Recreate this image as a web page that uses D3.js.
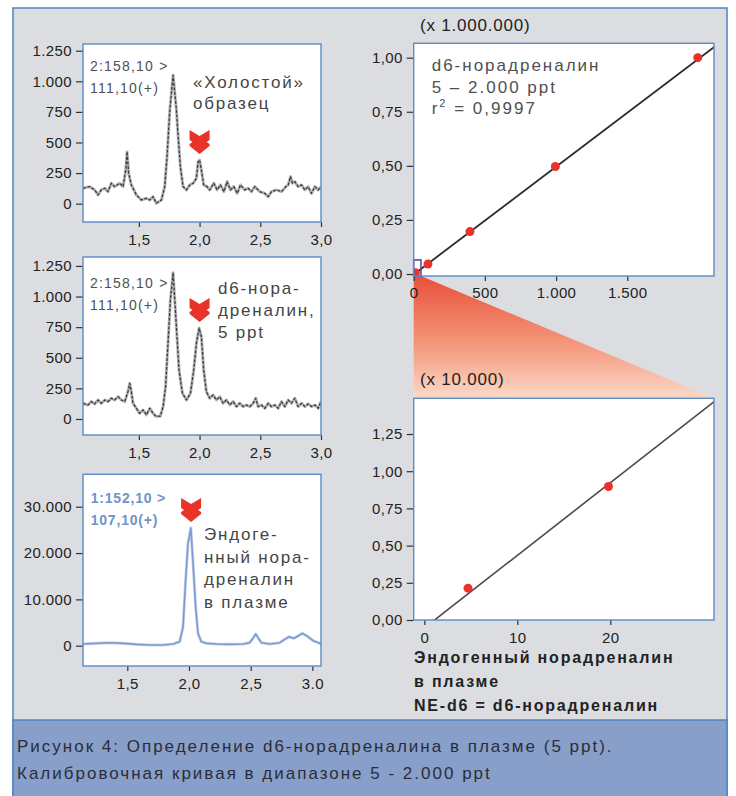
<!DOCTYPE html>
<html>
<head>
<meta charset="utf-8">
<script src="https://cdn.jsdelivr.net/npm/d3@7/dist/d3.min.js"></script>
<style>
  body { margin: 0; background: #fff; }
  svg text { font-family: "Liberation Sans", Arial, sans-serif; }
  .tick text { font-size: 15px; fill: #222; letter-spacing: 0.4px; }
  .tick line { stroke: #333; stroke-width: 1.2; }
</style>
</head>
<body>
<svg id="chart" width="736" height="796"></svg>
<script>
// ---- data ----
const blankTrace = [
  [1.04,126],[1.095,139],[1.136,112],[1.164,71],[1.19,112],[1.22,126],[1.246,98],[1.273,167],
  [1.30,139],[1.342,167],[1.37,139],[1.392,275],[1.403,425],[1.416,248],[1.438,153],[1.48,71],
  [1.52,30],[1.562,44],[1.59,30],[1.617,57],[1.644,3],[1.686,30],[1.713,139],[1.732,384],
  [1.755,765],[1.782,1050],[1.808,780],[1.823,560],[1.842,302],[1.864,139],[1.892,112],[1.92,153],
  [1.947,167],[1.974,208],[1.988,343],[2.0,357],[2.015,275],[2.034,153],[2.062,139],[2.084,112],
  [2.117,167],[2.144,112],[2.172,153],[2.2,98],[2.227,180],[2.254,112],[2.282,139],[2.31,84],
  [2.337,153],[2.372,112],[2.4,126],[2.427,98],[2.455,139],[2.496,98],[2.537,84],[2.565,57],
  [2.592,98],[2.633,112],[2.675,98],[2.71,139],[2.73,153],[2.749,221],[2.765,167],[2.784,180],
  [2.812,139],[2.84,153],[2.867,112],[2.894,139],[2.922,84],[2.95,139],[2.977,112],[3.0,139]
];
const spikedTrace = [
  [1.04,128],[1.081,114],[1.109,142],[1.136,123],[1.164,155],[1.19,128],[1.22,155],[1.246,142],
  [1.273,169],[1.30,155],[1.33,182],[1.356,155],[1.384,142],[1.41,223],[1.425,291],[1.438,223],
  [1.452,128],[1.48,87],[1.507,46],[1.535,73],[1.562,33],[1.59,87],[1.617,46],[1.644,19],
  [1.677,24],[1.70,101],[1.72,264],[1.74,618],[1.76,972],[1.782,1195],[1.809,754],[1.831,400],
  [1.859,210],[1.892,155],[1.925,210],[1.952,400],[1.974,618],[1.996,741],[2.015,673],[2.034,400],
  [2.056,223],[2.084,169],[2.111,196],[2.139,155],[2.166,182],[2.194,128],[2.221,155],[2.249,114],
  [2.276,142],[2.304,101],[2.331,128],[2.359,101],[2.386,114],[2.414,101],[2.441,128],[2.463,169],
  [2.482,101],[2.51,114],[2.537,87],[2.565,128],[2.592,101],[2.62,114],[2.647,87],[2.675,142],
  [2.702,101],[2.73,155],[2.757,128],[2.784,169],[2.812,101],[2.84,128],[2.867,101],[2.894,123],
  [2.922,101],[2.95,114],[2.977,87],[3.0,142]
];
const plasmaTrace = [
  [1.141,367],[1.249,511],[1.357,655],[1.465,511],[1.573,295],[1.682,151],[1.79,151],[1.871,367],
  [1.925,870],[1.952,4100],[1.973,14180],[1.992,22100],[2.015,25400],[2.033,17780],[2.054,8420],
  [2.073,2670],[2.1,870],[2.141,511],[2.222,367],[2.33,295],[2.438,367],[2.492,655],[2.519,1590],
  [2.541,2520],[2.563,1590],[2.587,655],[2.655,367],[2.736,655],[2.776,1370],[2.811,1940],
  [2.849,1590],[2.884,2090],[2.919,2670],[2.957,2090],[3.006,1080],[3.06,511],[3.087,367]
];
const calPoints = [[12,0.006],[100,0.046],[395,0.196],[995,0.497],[1995,1.0]];
const calFit = [[0,-0.002],[2115,1.052]];
const lowPoints = [[4.7,0.214],[19.8,0.897]];
const lowFit = [[0.9,-0.01],[31.5,1.484]];
const zoomBox = [[0,-0.009],[51,0.065]];

const chromYTicks = [0,250,500,750,1000,1250];
const chromYLabels = ["0","250","500","750","1.000","1.250"];
const chromXTicks = [1.5,2.0,2.5,3.0];
const chromXLabels = ["1,5","2,0","2,5","3,0"];
const plasmaXLabels = ["1,5","2,0","2,5","3.0"];
const plasmaYTicks = [0,10000,20000,30000];
const plasmaYLabels = ["0","10.000","20.000","30.000"];
const calXTicks = [0,500,1000,1500];
const calXLabels = ["0","500","1.000","1.500"];
const calYTicks = [0,0.25,0.5,0.75,1.0];
const calYLabels = ["0,00","0,25","0,50","0,75","1,00"];
const lowXTicks = [0,10,20];
const lowYTicks = [0,0.25,0.5,0.75,1.0,1.25];
const lowYLabels = ["0,00","0,25","0,50","0,75","1,00","1,25"];

const svg = d3.select("#chart");
const red = "#e8322a";

// frame + caption band
svg.append("rect").attr("x", 13).attr("y", 8).attr("width", 714).attr("height", 800)
  .attr("fill", "#dcdde0").attr("stroke", "#4d84c4").attr("stroke-width", 1.5);
svg.append("rect").attr("x", 13).attr("y", 720).attr("width", 714).attr("height", 80)
  .attr("fill", "#889fca").attr("stroke", "#4d84c4").attr("stroke-width", 1.5);

const defs = svg.append("defs");
const grad = defs.append("linearGradient").attr("id", "fan")
  .attr("x1", 0).attr("y1", 0).attr("x2", 0).attr("y2", 1);
grad.append("stop").attr("offset", "0%").attr("stop-color", "#e8513a");
grad.append("stop").attr("offset", "55%").attr("stop-color", "#f4967a");
grad.append("stop").attr("offset", "100%").attr("stop-color", "#fcd9c8");
defs.append("filter").attr("id", "soft").append("feGaussianBlur").attr("stdDeviation", 0.6);

let clipId = 0;
function panel(opt) {
  const x = d3.scaleLinear().domain(opt.xd).range([opt.left, opt.right]);
  const y = d3.scaleLinear().domain(opt.yd).range([opt.bottom, opt.top]);
  const g = svg.append("g");
  const id = "clip" + (clipId++);
  defs.append("clipPath").attr("id", id).append("rect")
    .attr("x", opt.left).attr("y", opt.top)
    .attr("width", opt.right - opt.left).attr("height", opt.bottom - opt.top);

  g.append("rect").attr("x", opt.left).attr("y", opt.top)
    .attr("width", opt.right - opt.left).attr("height", opt.bottom - opt.top)
    .attr("fill", "#fff");

  g.append("g").attr("transform", "translate(" + opt.left + ",0)")
    .call(d3.axisLeft(y).tickValues(opt.yt).tickFormat((d, i) => opt.yl[i]).tickSize(7).tickPadding(4));
  g.append("g").attr("transform", "translate(0," + opt.bottom + ")")
    .call(d3.axisBottom(x).tickValues(opt.xt).tickFormat((d, i) => opt.xl[i]).tickSize(5).tickPadding(opt.xpad));
  g.selectAll(".domain").remove();

  const body = g.append("g").attr("clip-path", "url(#" + id + ")");
  return { x, y, g, body, opt };
}

function frame(p) {
  const o = p.opt;
  p.g.append("rect").attr("x", o.left).attr("y", o.top)
    .attr("width", o.right - o.left).attr("height", o.bottom - o.top)
    .attr("fill", "none").attr("stroke", "#5a8cc6").attr("stroke-width", 1.4);
}

function trace(p, data, color, halo, dashed) {
  const line = d3.line().x(d => p.x(d[0])).y(d => p.y(d[1]));
  p.body.append("path").attr("d", line(data)).attr("fill", "none")
    .attr("stroke", halo).attr("stroke-width", 3).attr("stroke-linejoin", "round");
  p.body.append("path").attr("d", line(data)).attr("fill", "none")
    .attr("stroke", color).attr("stroke-width", dashed ? 1.3 : 1.6)
    .attr("stroke-dasharray", dashed ? "3,1.5" : null).attr("stroke-linejoin", "round");
}

function chevron(p, cx, cy) {
  p.g.append("path")
    .attr("transform", "translate(" + p.x(cx) + "," + p.y(cy) + ")")
    .attr("d", "M-10,-12 L0,-6 L10,-12 L10,-2 L7,0 L10,2 L10,4 L0,12 L-10,4 L-10,2 L-7,0 L-10,-2 Z")
    .attr("fill", red).attr("filter", "url(#soft)");
}

// one <text> per line
function label(p, lines, dx, dy, lh, size, color, spacing, weight) {
  lines.forEach((s, i) => {
    p.g.append("text").attr("x", p.opt.left + dx).attr("y", p.opt.top + dy + i * lh)
      .attr("font-size", size).attr("fill", color).attr("letter-spacing", spacing)
      .attr("font-weight", weight || "normal").text(s);
  });
}

// ---- left chromatograms ----
const c1 = panel({ left: 83, right: 321, top: 44, bottom: 222, xd: [1.04, 3.0], yd: [-150, 1305],
  xt: chromXTicks, xl: chromXLabels, yt: chromYTicks, yl: chromYLabels, xpad: 7 });
trace(c1, blankTrace, "#3c3c3c", "#b8b8b8", true);
frame(c1);
chevron(c1, 2.0, 504);
label(c1, ["2:158,10 >", "111,10(+)"], 7, 27, 22, 14, "#505050", 1.2);
label(c1, ["«Холостой»", "образец"], 110, 43.5, 21, 17, "#454545", 1.8);

const c2 = panel({ left: 83, right: 321, top: 257, bottom: 435, xd: [1.04, 3.0], yd: [-131, 1323],
  xt: chromXTicks, xl: chromXLabels, yt: chromYTicks, yl: chromYLabels, xpad: 7 });
trace(c2, spikedTrace, "#3c3c3c", "#b8b8b8", true);
frame(c2);
chevron(c2, 2.0, 890);
label(c2, ["2:158,10 >", "111,10(+)"], 7, 30.7, 22.3, 14, "#505050", 1.2);
label(c2, ["d6-нора-", "дреналин,", "5 ppt"], 135, 37, 22, 17, "#454545", 1.8);

const c3 = panel({ left: 83, right: 321, top: 474.3, bottom: 666, xd: [1.141, 3.07], yd: [-4380, 37000],
  xt: chromXTicks, xl: plasmaXLabels, yt: plasmaYTicks, yl: plasmaYLabels, xpad: 7 });
trace(c3, plasmaTrace, "#7b9bd2", "#c9d6ee", false);
frame(c3);
chevron(c3, 2.017, 29290);
label(c3, ["1:152,10 >", "107,10(+)"], 7.7, 28.7, 22, 14, "#6f93cc", 0.8, "bold");
label(c3, ["Эндоге-", "нный нора-", "дреналин", "в плазме"], 121, 65.7, 22.5, 17, "#454545", 1.8);

// ---- calibration curves ----
const cal = panel({ left: 413.7, right: 714, top: 43.3, bottom: 276, xd: [0, 2109], yd: [-0.0092, 1.0665],
  xt: calXTicks, xl: calXLabels, yt: calYTicks, yl: calYLabels, xpad: 6 });
const low = panel({ left: 413.7, right: 714, top: 398.3, bottom: 620, xd: [-1.14, 31.15], yd: [0, 1.49],
  xt: lowXTicks, xl: lowXTicks.map(String), yt: lowYTicks, yl: lowYLabels, xpad: 7 });

// fan from the zoom square down to the lower plot
svg.insert("path", "g")
  .attr("d", d3.line()([
    [cal.x(zoomBox[0][0]), cal.opt.bottom], [cal.x(zoomBox[1][0]), cal.opt.bottom],
    [low.opt.right, low.opt.top], [low.opt.left, low.opt.top]
  ]) + "Z")
  .attr("fill", "url(#fan)");

const fitLine = p => d3.line().x(d => p.x(d[0])).y(d => p.y(d[1]));
cal.body.append("path").attr("d", fitLine(cal)(calFit)).attr("stroke", "#2a2a2a")
  .attr("stroke-width", 1.8).attr("fill", "none");
cal.body.selectAll("circle").data(calPoints).join("circle")
  .attr("cx", d => cal.x(d[0])).attr("cy", d => cal.y(d[1])).attr("r", 4.5).attr("fill", red)
  .attr("filter", "url(#soft)");
cal.g.append("rect")
  .attr("x", cal.x(zoomBox[0][0])).attr("y", cal.y(zoomBox[1][1]))
  .attr("width", cal.x(zoomBox[1][0]) - cal.x(zoomBox[0][0]))
  .attr("height", cal.y(zoomBox[0][1]) - cal.y(zoomBox[1][1]))
  .attr("fill", "none").attr("stroke", "#5b4ea3").attr("stroke-width", 1.6);
frame(cal);
label(cal, ["(x 1.000.000)"], 6.3, -12.3, 0, 17, "#222", 0.8);
label(cal, ["d6-норадреналин", "5 – 2.000 ppt"], 18, 27.7, 22, 17, "#505050", 2);
const r2t = cal.g.append("text").attr("x", cal.opt.left + 18).attr("y", cal.opt.top + 70.7)
  .attr("font-size", 17).attr("fill", "#505050").attr("letter-spacing", 2);
r2t.append("tspan").text("r");
r2t.append("tspan").attr("font-size", 11).attr("dy", -7).text("2");
r2t.append("tspan").attr("dy", 7).text(" = 0,9997");

low.body.append("path").attr("d", fitLine(low)(lowFit)).attr("stroke", "#4a4a4a")
  .attr("stroke-width", 1.6).attr("fill", "none");
low.body.selectAll("circle").data(lowPoints).join("circle")
  .attr("cx", d => low.x(d[0])).attr("cy", d => low.y(d[1])).attr("r", 4.5).attr("fill", red)
  .attr("filter", "url(#soft)");
frame(low);
label(low, ["(x 10.000)"], 6.3, -13.3, 0, 17, "#222", 0.8);
label(low, ["Эндогенный норадреналин", "в плазме", "NE-d6 = d6-норадреналин"], 0.3, 264.7, 24, 16, "#222", 1.8, "bold");

// caption
svg.append("text").attr("x", 17).attr("y", 752).attr("font-size", 17)
  .attr("fill", "#2a2d38").attr("letter-spacing", 2)
  .text("Рисунок 4: Определение d6-норадреналина в плазме (5 ppt).");
svg.append("text").attr("x", 17).attr("y", 779).attr("font-size", 17)
  .attr("fill", "#2a2d38").attr("letter-spacing", 2)
  .text("Калибровочная кривая в диапазоне 5 - 2.000 ppt");
</script>
</body>
</html>
